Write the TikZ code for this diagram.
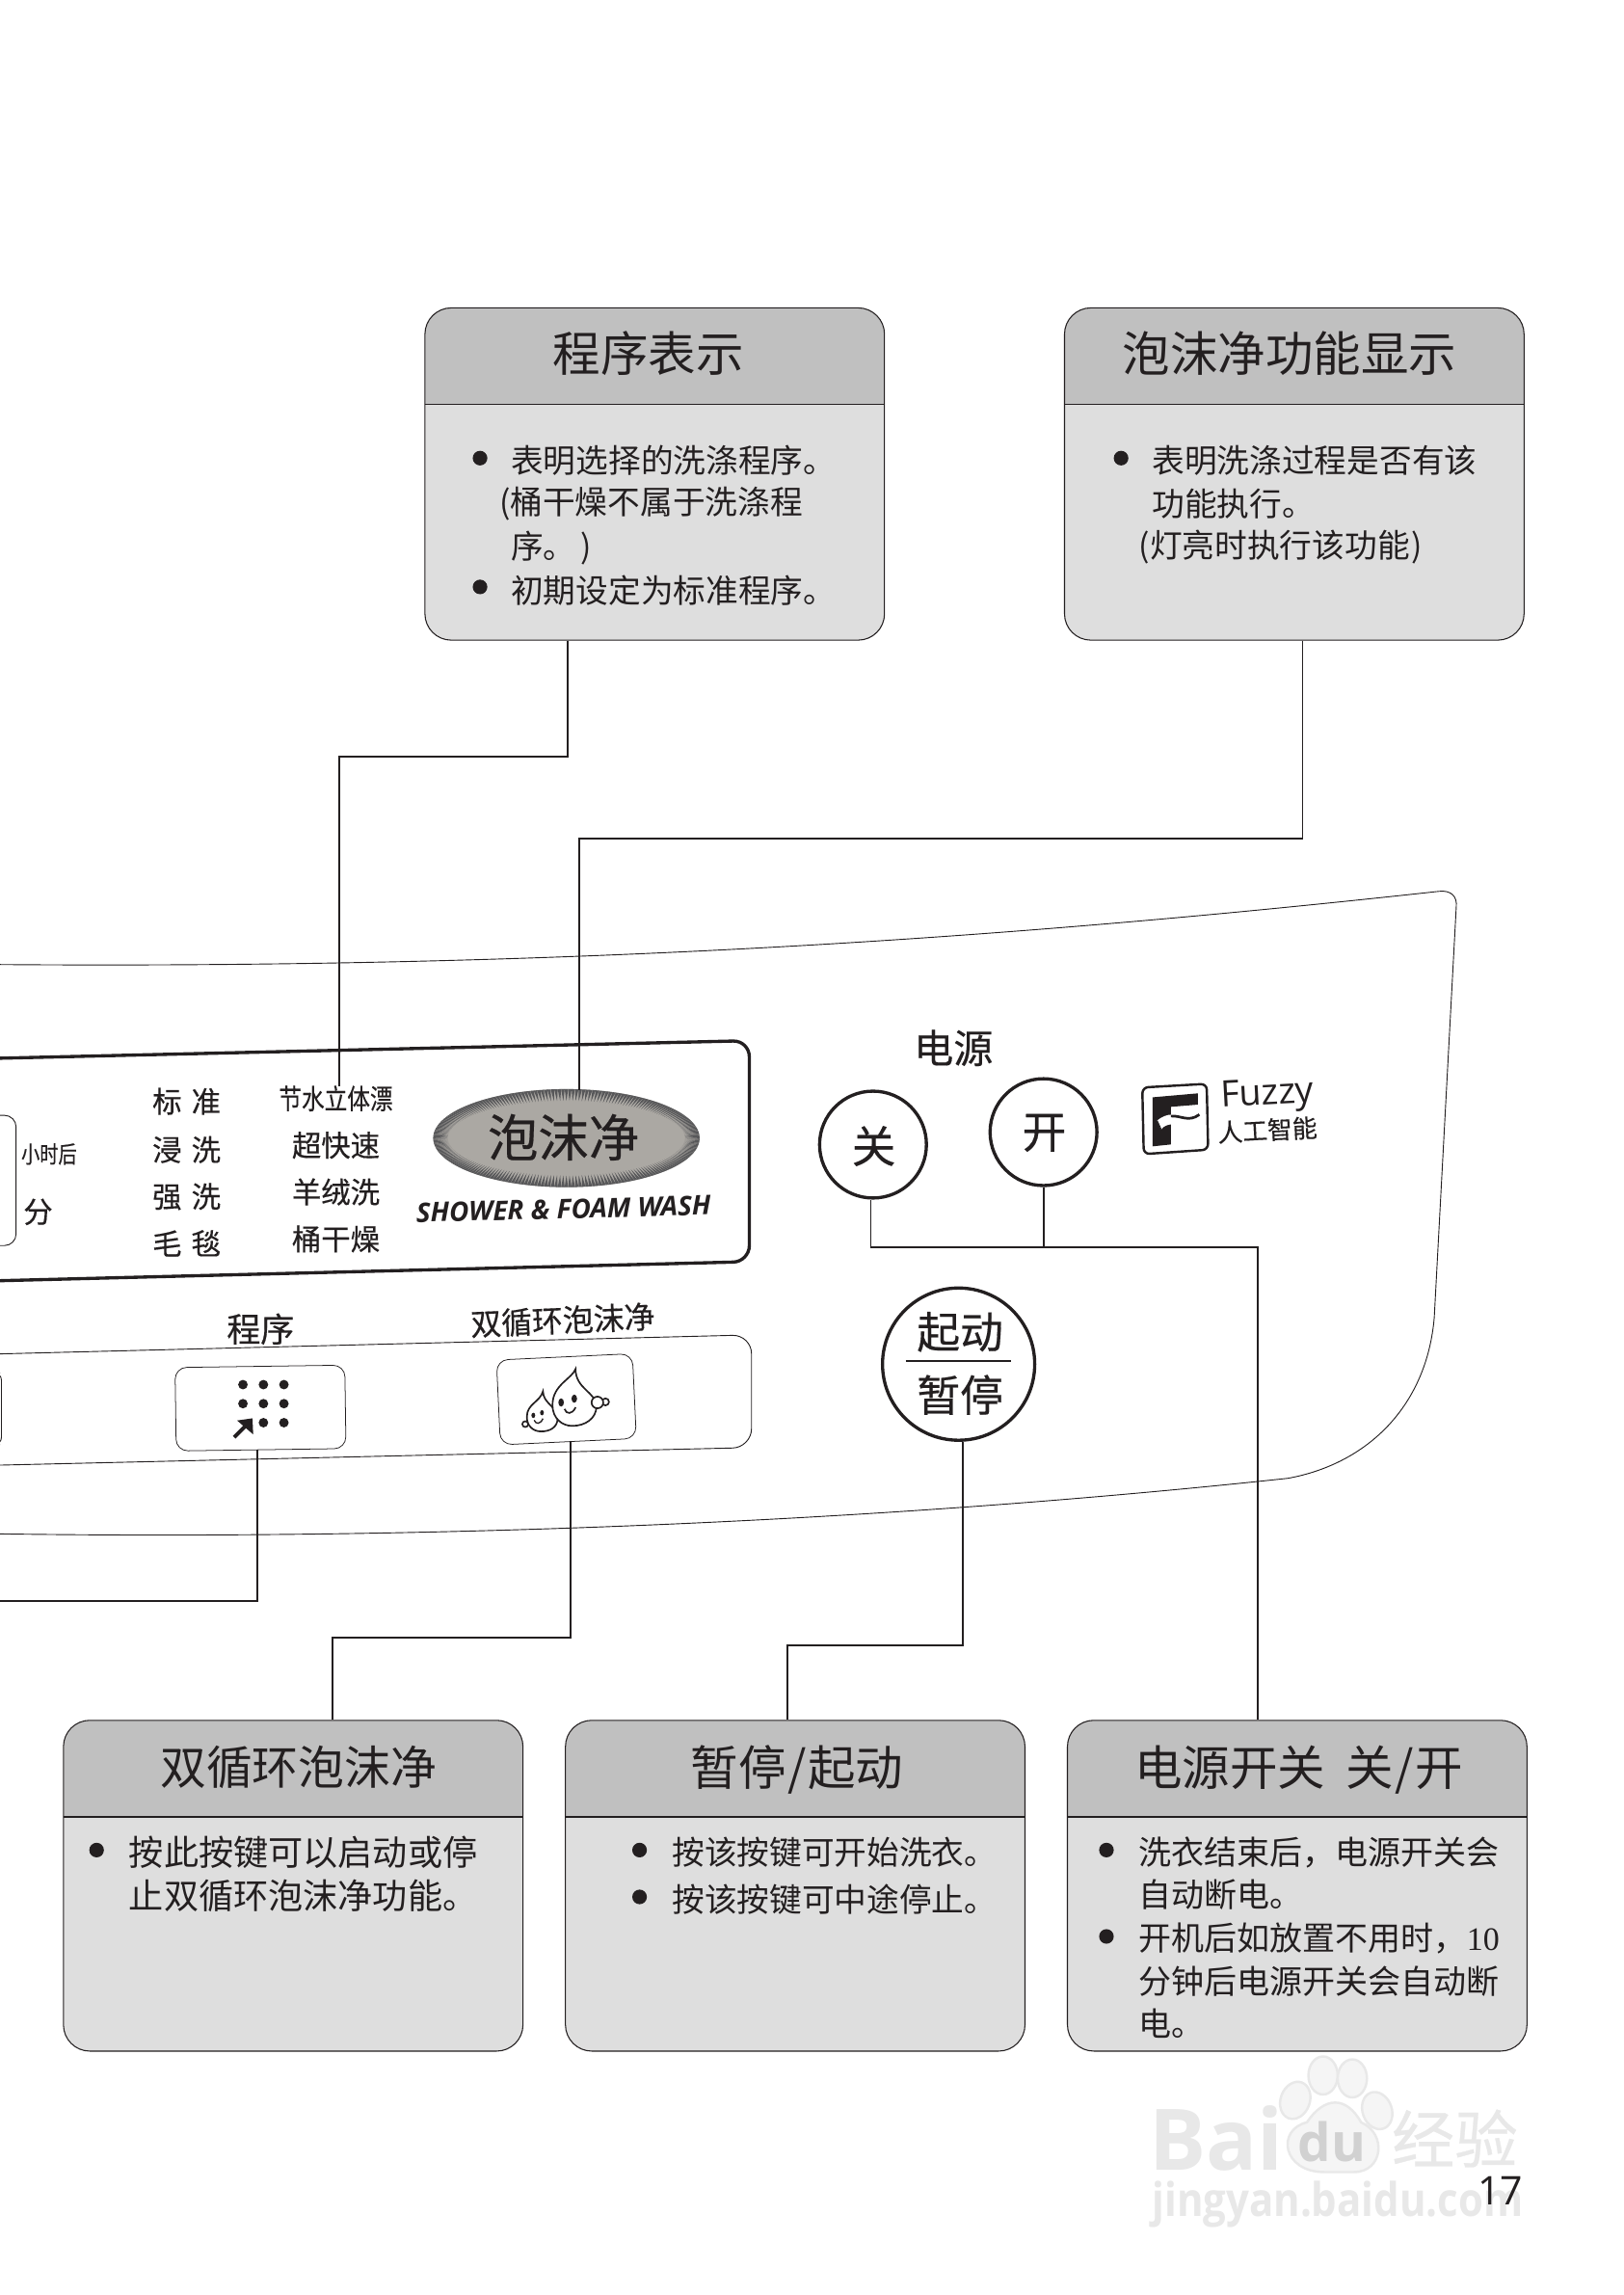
\documentclass[tikz,border=0pt]{standalone}
\usepackage{fontspec}
\usetikzlibrary{shapes.geometric}
\setmainfont{Noto Sans CJK SC}
\newfontfamily\panelfont[FakeBold=0.4]{Noto Sans CJK SC}
\newfontfamily\latinfont{Open Sans}
\newfontfamily\serifnum{Liberation Serif}
\definecolor{ink}{HTML}{231F20}
\definecolor{hdrgray}{HTML}{C0C0C0}
\definecolor{bodygray}{HTML}{DEDEDE}
\definecolor{ovalgray}{HTML}{ABA8A3}
\definecolor{spike}{HTML}{58585A}
\definecolor{wmark}{HTML}{E8E8E8}
\definecolor{wmpaw}{HTML}{F5F5F5}
\newcommand{\fsz}[1]{\fontsize{#1}{#1}\selectfont}
\tikzset{
  infobox/.style={draw=ink,line width=.7pt,rounded corners=18pt,fill=bodygray,minimum width=314pt,minimum height=#1,anchor=north west,inner sep=0pt,
    path picture={
      \fill[hdrgray,sharp corners] (path picture bounding box.north west) rectangle ([yshift=-66pt]path picture bounding box.north east);
      \draw[ink,line width=.7pt,sharp corners] ([yshift=-66pt]path picture bounding box.north west) -- ([yshift=-66pt]path picture bounding box.north east);
    }},
  heading/.style={text=ink,font=\fsz{32.6},inner sep=0pt},
  bodyline/.style={text=ink,font=\fsz{22.2},anchor=west,inner sep=0pt},
  bodylong/.style={text=ink,font=\fsz{22.4},anchor=west,inner sep=0pt},
  bodywide/.style={text=ink,font=\fsz{23.8},anchor=west,inner sep=0pt},
  bulletdot/.style={circle,fill=ink,minimum size=10pt,inner sep=0pt},
  conn/.style={draw=ink,line width=1.1pt},
  paneltext/.style={text=ink,font=\panelfont\fsz{20},inner sep=0pt},
  roundkey/.style={draw=ink,line width=2.2pt,ellipse,fill=white,inner sep=0pt},
  panelline/.style={draw=ink,line width=.6pt},
  thickline/.style={draw=ink,line width=2.2pt,rounded corners=11pt},
  softkey/.style={draw=ink,line width=.5pt,rounded corners=8pt,inner sep=0pt,fill=white},
  keydot/.style={circle,fill=ink,minimum size=6.5pt,inner sep=0pt},
  dropline/.style={draw=ink,line width=1.1pt,fill=white},
  wmtext/.style={text=wmark,inner sep=0pt},
}
\begin{document}
\begin{tikzpicture}[x=1pt,y=-1pt]
\useasboundingbox[fill=white] (0,0) rectangle (1109,1568);

% outer panel outline
\draw[panelline] (0,659) .. controls (400,662) and (700,640) .. (983,609)
  .. controls (991,608) and (996,612) .. (995,620)
  -- (980,900) .. controls (975,960) and (935,1000) .. (880,1010)
  .. controls (600,1040) and (300,1052) .. (0,1048);

% display frame
\draw[thickline] (0,723) -- (512,711) -- (512,862) -- (0,875);
\draw[panelline,rounded corners=8pt] (0,762) -- (11,762) -- (11,851) -- (0,851);
% lower key strip
\draw[panelline,rounded corners=13pt] (0,925) -- (513.5,912) -- (513.5,989) -- (0,1001);
\draw[panelline,rounded corners=5pt] (0,938) -- (1,938) -- (1,987) -- (0,987);

% oval
\node[ellipse,fill=ovalgray,minimum width=182pt,minimum height=67pt,inner sep=0pt] (oval) at (387,777.6) {};
\foreach \a in {0,1.5,...,359} {
  \fill[spike] (387,777.6)+(\a-.75:91 and 33.5) -- +(\a+.75:91 and 33.5) -- +(\a:81 and 25.5) -- cycle;
}
\node[paneltext,font=\panelfont\fsz{34.5}] (ovaltxt) at (385,777) {泡沫净};
\node[text=ink,font=\latinfont\bfseries\itshape\fsz{18.4},rotate=1.5,inner sep=0pt] (shower) at (385,826) {SHOWER \& FOAM WASH};

% program labels
\node[paneltext] (l1) at (127.5,752.5) {标\,\,准};
\node[paneltext] (l2) at (127.5,785.5) {浸\,\,洗};
\node[paneltext] (l3) at (127.5,817.5) {强\,\,洗};
\node[paneltext] (l4) at (127.5,849.5) {毛\,\,毯};
\node[paneltext,font=\panelfont\fsz{19},xscale=.82] (m1) at (229.5,750.5) {节水立体漂};
\node[paneltext] (m2) at (229.5,782.5) {超快速};
\node[paneltext] (m3) at (229.5,814.5) {羊绒洗};
\node[paneltext] (m4) at (229.5,846.5) {桶干燥};
\node[paneltext,font=\panelfont\fsz{16},xscale=.79] (hr) at (33.5,788.5) {小时后};
\node[paneltext] (mn) at (26,828) {分};
\node[paneltext,font=\panelfont\fsz{23}] (prog) at (178,908) {程序};
\node[paneltext,font=\panelfont\fsz{21},rotate=2.5] (dbl) at (384.5,902) {双循环泡沫净};

% keys
\node[softkey,minimum width=116pt,minimum height=57pt,rotate=.8] (progkey) at (178,962) {};
\node[softkey,minimum width=93pt,minimum height=58pt,rotate=2.7] (dblkey) at (387,956) {};
\foreach \px/\py/\n in {166/946/a,180/946/b,194/946/c,166/959/d,180/959/e,194/959/f,180/972/g,194/972/h} {
  \node[keydot] (dot\n) at (\px,\py) {};
}
\draw[ink,line width=2.6pt] (160,982) -- (170,972);
\fill[ink] (172.5,969) -- (173,980) -- (162,970.5) -- cycle;

% droplets
\draw[dropline] (358.9,973) circle (2);
\draw[dropline] (371,950.5) .. controls (369,958) and (360,959) .. (360,968)
  .. controls (360,974) and (364,978) .. (369.8,978) .. controls (376,978) and (381,975) .. (381,969)
  .. controls (381,961) and (371,959) .. (371,950.5) -- cycle;
\draw[dropline] (393.3,935.2) .. controls (391,942) and (377.5,946) .. (377.5,960)
  .. controls (377.5,969) and (384,974.2) .. (391,974.2) .. controls (400,974.2) and (407.5,969) .. (407.5,961)
  .. controls (407.5,951) and (393,949) .. (393.3,935.2) -- cycle;
\draw[dropline] (413.7,957.8) circle (2.4);
\draw[dropline] (408.2,958.2) circle (4);
\fill[ink] (383.4,958.2) ellipse (1.9 and 2.8) (392.4,955.6) ellipse (1.9 and 2.8)
  (364.4,967) ellipse (1.3 and 1.8) (370.3,965.2) ellipse (1.3 and 1.8);
\draw[ink,line width=1.1pt] (385.7,962.6) .. controls (387,966.5) and (391,966.5) .. (393.3,961.5);
\draw[ink,line width=.9pt] (365,970.3) .. controls (366,973) and (369,973.5) .. (371,969.2);

% power keys
\node[paneltext,font=\panelfont\fsz{27}] (pw) at (651.5,716) {电源};
\node[roundkey,minimum width=73pt,minimum height=73pt] (off) at (596.5,782) {};
\node[roundkey,minimum width=73pt,minimum height=73pt] (on) at (713,773.5) {};
\node[paneltext,font=\panelfont\fsz{30}] (offt) at (597,783) {关};
\node[paneltext,font=\panelfont\fsz{30}] (ont) at (713.5,774) {开};
\node[roundkey,minimum width=104pt,minimum height=104pt] (start) at (655,932) {};
\node[paneltext,font=\panelfont\fsz{29.5}] (st1) at (656,910) {起动};
\node[paneltext,font=\panelfont\fsz{29.5}] (st2) at (656,953) {暂停};
\coordinate (rl) at (619,930);
\coordinate (rr) at (691,930);
\draw[ink,line width=1pt] (rl) -- (rr);

% fuzzy logo
\draw[ink,line width=1.6pt,rounded corners=4pt,fill=white] (780.5,743) -- (824.5,740.5) -- (825.5,785.5) -- (781.5,788.5) -- cycle;
\fill[ink] (787.6,749.7) -- (818.4,747) -- (818.4,754.7) -- (800.1,756.2) -- (800.1,781.9) -- (787.6,783.2) -- cycle;
\fill[white] (790.7,765.5) .. controls (794,763) and (797,761.5) .. (801,761.5) -- (801,768) .. controls (797,768.5) and (795,769.5) .. (793.5,771.6) -- cycle;
\draw[ink,line width=.5pt,fill=white] (790.7,765.5) -- (793.5,771.6);
\draw[ink,line width=1.8pt] (800,762.5) .. controls (807,762) and (812,767) .. (819.5,761.5);

\node[text=ink,font=\latinfont\fsz{24.8},rotate=3,inner sep=0pt] (fz) at (866,749) {Fuzzy};
\node[paneltext,font=\panelfont\fsz{17},rotate=3] (ai) at (866,772) {人工智能};

% info boxes
\node[infobox=227pt] (b1) at (290,210) {};
\node[infobox=227pt] (b2) at (727,210) {};
\node[infobox=226pt] (b3) at (43,1175) {};
\node[infobox=226pt] (b4) at (386,1175) {};
\node[infobox=226pt] (b5) at (729,1175) {};

\node[heading] (h1) at (443,241.5) {程序表示};
\node[heading] (h2) at (881,241.5) {泡沫净功能显示};
\node[heading,font=\fsz{31.5}] (h3) at (204,1207.5) {双循环泡沫净};
\node[heading] (h4) at (544.5,1209) {暂停\hspace{1pt}/\hspace{1pt}起动};
\node[heading] (h5) at (887.5,1209) {电源开关\hspace{14pt}关\hspace{1pt}/\hspace{1pt}开};

\node[bulletdot] (d1a) at (328,313) {};
\node[bulletdot] (d1b) at (328,401) {};
\node[bodyline] (t1a) at (349,314.5) {表明选择的洗涤程序。};
\node[bodyline] (t1b) at (341,344.5) {(桶干燥不属于洗涤程};
\node[bodyline] (t1c) at (349,374.5) {序。\hspace{3pt})};
\node[bodyline] (t1d) at (349,403.5) {初期设定为标准程序。};

\node[bulletdot] (d2a) at (766,313) {};
\node[bodyline] (t2a) at (787,314.5) {表明洗涤过程是否有该};
\node[bodyline] (t2b) at (787,344.5) {功能执行。};
\node[bodyline] (t2c) at (778,373.5) {(灯亮时执行该功能\hspace{1pt})};

\node[bulletdot] (d3a) at (66,1264) {};
\node[bodywide] (t3a) at (88,1265.5) {按此按键可以启动或停};
\node[bodywide] (t3b) at (88,1295.5) {止双循环泡沫净功能。};

\node[bulletdot] (d4a) at (437,1264) {};
\node[bulletdot] (d4b) at (437,1296) {};
\node[bodyline] (t4a) at (459,1265.5) {按该按键可开始洗衣。};
\node[bodyline] (t4b) at (459,1297.5) {按该按键可中途停止。};

\node[bulletdot] (d5a) at (756,1264) {};
\node[bulletdot] (d5b) at (756,1323) {};
\node[bodylong] (t5a) at (778,1265.5) {洗衣结束后，电源开关会};
\node[bodylong] (t5b) at (778,1294.5) {自动断电。};
\node[bodylong] (t5c) at (778,1324.5) {开机后如放置不用时，{\serifnum 10}};
\node[bodylong] (t5d) at (778,1353.5) {分钟后电源开关会自动断};
\node[bodylong] (t5e) at (778,1382.5) {电。};

% connectors
\coordinate (j1a) at (388,517);
\coordinate (j1b) at (232,517);
\coordinate (j1c) at (232,742);
\draw[conn] (b1.south -| j1a) -- (j1a) -- (j1b) -- (j1c);
\coordinate (j2a) at (890,573);
\coordinate (j2b) at (396,573);
\coordinate (j2c) at (396,745);
\draw[conn] (b2.south -| j2a) -- (j2a) -- (j2b) -- (j2c);
\coordinate (j3a) at (595,852);
\coordinate (j3b) at (859.5,852);
\draw[conn] (off.south -| j3a) -- (j3a) -- (j3b) -- (b5.north -| j3b);
\draw[conn] (on.south) -- (on.south |- j3a);
\coordinate (j4a) at (658,1124);
\coordinate (j4b) at (538,1124);
\draw[conn] (j4a |- start.south) -- (j4a) -- (j4b) -- (b4.north -| j4b);
\coordinate (j5a) at (176,1094);
\coordinate (j5b) at (0,1094);
\draw[conn] (j5a |- progkey.south) -- (j5a) -- (j5b);
\coordinate (j6a) at (390,1119);
\coordinate (j6b) at (227,1119);
\draw[conn] (j6a |- dblkey.south) -- (j6a) -- (j6b) -- (b3.north -| j6b);

% watermark
\begin{scope}[draw=wmark,fill=wmpaw,line width=1.6pt]
  \filldraw[rotate around={-20:(885,1435)}] (885,1435) ellipse (10 and 13);
  \filldraw (904,1418) ellipse (10 and 13);
  \filldraw (924,1420) ellipse (10 and 13);
  \filldraw[rotate around={20:(941,1442)}] (941,1442) ellipse (10 and 13);
  \filldraw (905,1484) .. controls (876,1484) and (872,1455) .. (893,1450)
    .. controls (905,1432) and (920,1432) .. (930,1450)
    .. controls (948,1458) and (945,1484) .. (925,1484) -- cycle;
\end{scope}
\node[wmtext,font=\latinfont\bfseries\fsz{58}] (wm1) at (831,1461) {Bai};
\node[text=white!82!black,font=\latinfont\bfseries\fsz{36},inner sep=0pt] (wm2) at (910,1463) {du};
\node[wmtext,font=\panelfont\fsz{43}] (wm3) at (994,1461) {经验};
\node[wmtext,font=\latinfont\bfseries\fsz{27.6},yscale=1.15] (wm4) at (914,1506) {jingyan.baidu.com};

% page number
\node[text=ink,font=\latinfont\fsz{27},inner sep=0pt] (pg) at (1025,1497) {17};
\end{tikzpicture}
\end{document}
